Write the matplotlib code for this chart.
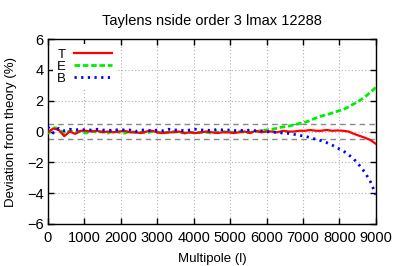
import numpy as np
import matplotlib
matplotlib.use("Agg")
import matplotlib.pyplot as plt

plt.rcParams['font.family'] = ['Liberation Sans', 'DejaVu Sans']

multipole = np.arange(0, 9001, 150)

T = [-0.05, 0.2, 0.1, -0.3, 0.0, -0.15, 0.05, 0.05, 0.0, 0.05,
     -0.05, 0.0, -0.05, 0.0, 0.05, -0.05, -0.05, -0.1, 0.0, 0.05,
     -0.05, -0.1, -0.05, -0.05, 0.0, -0.1, -0.05, -0.1, -0.05, 0.0,
     -0.05, -0.1, -0.05, -0.05, -0.1, -0.05, 0.0, -0.1, 0.05, -0.05,
     0.0, 0.0, -0.05, 0.05, 0.0, 0.0, 0.05, 0.05, 0.1, 0.05,
     0.05, 0.1, 0.05, 0.07, 0.05, 0.0, -0.15, -0.28, -0.4, -0.55,
     -0.8]

E = [-0.15, 0.25, 0.2, -0.15, 0.05, -0.05, 0.0, -0.1, 0.05, -0.05,
     0.0, -0.1, 0.05, -0.05, -0.1, 0.0, -0.05, -0.05, -0.1, 0.0,
     -0.05, -0.1, -0.05, 0.0, -0.05, -0.1, -0.05, -0.1, -0.05, -0.05,
     -0.1, -0.05, 0.0, -0.05, -0.05, 0.0, -0.05, -0.05, 0.0, 0.05,
     0.1, 0.15, 0.22, 0.3, 0.35, 0.43, 0.52, 0.6, 0.72, 0.88,
     1.0, 1.1, 1.2, 1.32, 1.42, 1.6, 1.8, 2.0, 2.25, 2.55,
     2.86]

B = [0.3, -0.1, 0.2, 0.05, 0.15, 0.1, 0.15, 0.1, 0.1, 0.15,
     0.1, 0.1, 0.05, 0.15, 0.1, 0.1, 0.0, 0.1, 0.1, 0.05,
     0.1, 0.05, 0.15, 0.1, 0.1, 0.05, 0.1, 0.15, 0.1, 0.1,
     0.05, 0.15, 0.1, 0.1, 0.05, 0.1, 0.05, 0.1, 0.05, 0.05,
     0.0, -0.05, -0.05, -0.1, -0.12, -0.18, -0.25, -0.3, -0.4, -0.5,
     -0.6, -0.72, -0.88, -1.08, -1.25, -1.5, -1.8, -2.2, -2.65, -3.25,
     -4.1]

fig = plt.figure(figsize=(3.99, 2.66), dpi=100)
ax = fig.add_axes([0.12, 0.158, 0.822, 0.695])

ax.plot(multipole, T, color='#ff0000', lw=1.6, label='T', zorder=4)
ax.plot(multipole, E, color='#00ee00', lw=2.0, ls=(0, (2.0, 1.0)), label='E', zorder=3)
ax.plot(multipole, B, color='#0000ff', lw=2.0, ls=(0, (0.8, 1.6)), label='B', zorder=5)

ax.axhline(0.5, color='#888888', lw=1.0, ls=(0, (4, 3)), zorder=2)
ax.axhline(-0.5, color='#888888', lw=1.0, ls=(0, (4, 3)), zorder=2)

ax.set_xlim(0, 9000)
ax.set_ylim(-6, 6)
ax.set_xticks(np.arange(0, 9001, 1000))
ax.set_yticks(np.arange(-6, 7, 2))
ax.grid(True, color='#b0b0b0', ls=(0, (1, 2)), lw=0.8)
ax.tick_params(direction='in', top=True, right=True, length=4, width=1, labelsize=10.5)
ax.tick_params(axis='x', pad=5)
ax.tick_params(axis='y', pad=3)
for s in ax.spines.values():
    s.set_linewidth(1.0)

ax.set_title('Taylens nside order 3 lmax 12288', fontsize=10.5, pad=10)
ax.set_xlabel('Multipole (l)', fontsize=9.5, labelpad=6)
ax.set_ylabel('Deviation from theory (%)', fontsize=9.5, labelpad=7)

leg = ax.legend(loc='upper left', markerfirst=False, fontsize=9.5, handlelength=2.9,
                frameon=True, fancybox=False, borderpad=0.3, labelspacing=0.0,
                handletextpad=0.6, borderaxespad=0.4)
leg.get_frame().set_edgecolor('none')
leg.get_frame().set_facecolor('white')
leg.get_frame().set_alpha(1.0)

fig.savefig('out.png', dpi=100)
